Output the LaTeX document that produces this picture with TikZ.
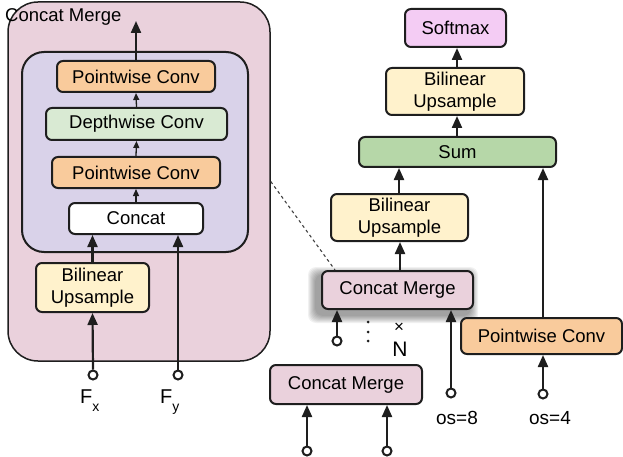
\documentclass[tikz,border=0pt]{standalone}
\usepackage{fontspec}
\setmainfont{Liberation Sans}
\usetikzlibrary{arrows.meta,calc}
\definecolor{outerpink}{RGB}{234,209,220}
\definecolor{lav}{RGB}{217,210,233}
\definecolor{orng}{RGB}{249,203,156}
\definecolor{lgreen}{RGB}{217,234,211}
\definecolor{yel}{RGB}{255,242,204}
\definecolor{sumgreen}{RGB}{182,215,168}
\definecolor{softpink}{RGB}{244,204,244}
\definecolor{edge}{RGB}{30,30,30}
\tikzset{
  box/.style={draw=edge, line width=2pt, rounded corners=6pt, inner sep=0pt, align=center,
    font=\fontsize{18.5}{22}\selectfont},
  port/.style={circle, draw=edge, fill=white, line width=2pt, minimum size=9pt, inner sep=0pt},
  bigarr/.style={line width=2.2pt, draw=edge, -{Triangle[length=12pt,width=10pt]}},
  smallarr/.style={line width=1.3pt, draw=edge, -{Triangle[length=7pt,width=6pt]}},
  lbl/.style={font=\fontsize{19}{22}\selectfont, inner sep=0pt},
}
\begin{document}
\begin{tikzpicture}[x=1pt,y=-1pt]
\useasboundingbox (0,0) rectangle (623,457);
% left detail
\node[draw=edge, line width=1.5pt, fill=outerpink, rounded corners=30pt,
  minimum width=262pt, minimum height=359pt, inner sep=0pt] (outer) at (139,181.5) {};
\node[anchor=west, lbl, font=\fontsize{18.5}{22}\selectfont] (title) at (5,17) {Concat Merge};
\node[draw=edge, line width=2pt, fill=lav, rounded corners=22pt,
  minimum width=226pt, minimum height=200pt, inner sep=0pt] (inner) at (135,152) {};
\node[box, fill=orng, minimum width=158pt, minimum height=31pt] (pw1) at (136,76.5) {Pointwise Conv};
\node[box, fill=lgreen, minimum width=181pt, minimum height=32pt] (dw) at (136.5,124) {Depthwise Conv};
\node[box, fill=orng, minimum width=168pt, minimum height=31pt] (pw2) at (136,172.5) {Pointwise Conv};
\node[box, fill=white, minimum width=134pt, minimum height=31pt] (cat) at (136,218.5) {Concat};
\node[box, fill=yel, minimum width=113pt, minimum height=49pt] (bil1) at (92.5,287.5) {Bilinear\\Upsample};
\coordinate (out) at (136,21);
\node[port] (fx) at (93,375) {};
\node[port] (fy) at (178,375) {};
\node[lbl, anchor=base west] (fxl) at (80,403) {\fontsize{20}{22}\selectfont F\raisebox{-8pt}{\fontsize{14}{14}\selectfont x}};
\node[lbl, anchor=base west] (fyl) at (160,403) {\fontsize{20}{22}\selectfont F\raisebox{-8pt}{\fontsize{14}{14}\selectfont y}};
\draw[bigarr] (pw1.north) -- (out);
\draw[smallarr] (dw.north) -- (pw1.south);
\draw[smallarr] (pw2.north) -- (dw.south);
\draw[smallarr] (cat.north) -- (pw2.south);
\draw[bigarr] (bil1.north) -- (bil1.north |- cat.south);
\draw[bigarr] (fy.north) -- (fy |- cat.south);
\draw[bigarr] (fx.north) -- (bil1.south);

% right pipeline
\node[box, fill=softpink, minimum width=101pt, minimum height=38pt] (soft) at (455.5,28) {Softmax};
\node[box, fill=yel, minimum width=138pt, minimum height=47pt] (bil2) at (455,91.5) {Bilinear\\Upsample};
\node[box, fill=sumgreen, minimum width=197pt, minimum height=30pt] (sum) at (457.5,152) {Sum};
\node[box, fill=yel, minimum width=137pt, minimum height=47pt] (bil3) at (399.5,217.5) {Bilinear\\Upsample};
% shadow for concat merge
\foreach \k in {1,...,8} {
  \fill[black, opacity=0.055, rounded corners=8pt]
    ($(322,271)+(-6-\k,-\k+4)$) rectangle ($(473,309)+(-3+\k,\k+6)$);
}
\node[box, fill=outerpink, minimum width=151pt, minimum height=38pt] (cm1) at (397.5,290) {Concat Merge};
\node[box, fill=orng, minimum width=161pt, minimum height=36pt] (pwr) at (541.5,336) {Pointwise Conv};
\node[box, fill=outerpink, minimum width=152pt, minimum height=39pt] (cm2) at (346,384.5) {Concat Merge};

\coordinate (c1) at (457,0);
\draw[bigarr] (c1 |- bil2.north) -- (c1 |- soft.south);
\draw[bigarr] (c1 |- sum.north) -- (c1 |- bil2.south);
\coordinate (c2) at (399,0);
\draw[bigarr] (c2 |- bil3.north) -- (c2 |- sum.south);
\coordinate (c3) at (400,0);
\draw[bigarr] (c3 |- cm1.north) -- (c3 |- bil3.south);
\coordinate (c4) at (543,0);
\draw[bigarr] (c4 |- pwr.north) -- (c4 |- sum.south);
\node[port] (os4) at (543,394) {};
\draw[bigarr] (os4.north) -- (os4 |- pwr.south);
\node[port] (os8) at (451,393) {};
\draw[bigarr] (os8.north) -- (os8 |- cm1.south);
\node[port] (in1) at (337,341) {};
\draw[bigarr] (in1.north) -- (in1 |- cm1.south);
\node[port] (in2) at (307,451) {};
\draw[bigarr] (in2.north) -- (in2 |- cm2.south);
\node[port] (in3) at (387,451) {};
\draw[bigarr] (in3.north) -- (in3 |- cm2.south);
\node[lbl] (os8l) at (457,418) {os=8};
\node[lbl] (os4l) at (550,418) {os=4};
\node[lbl, font=\fontsize{21}{22}\selectfont] (nl) at (400,349) {N};
\node[inner sep=0pt, font=\fontsize{17}{17}\selectfont] (times) at (399,328) {×};
\foreach \yy in {322,332,341} \fill[edge] (368,\yy) circle (1.5pt);
\draw[dashed, line width=1.1pt, draw=edge!85] (outer.east) -- ($(cm1.north west)+(14,0)$);
\end{tikzpicture}
\end{document}
